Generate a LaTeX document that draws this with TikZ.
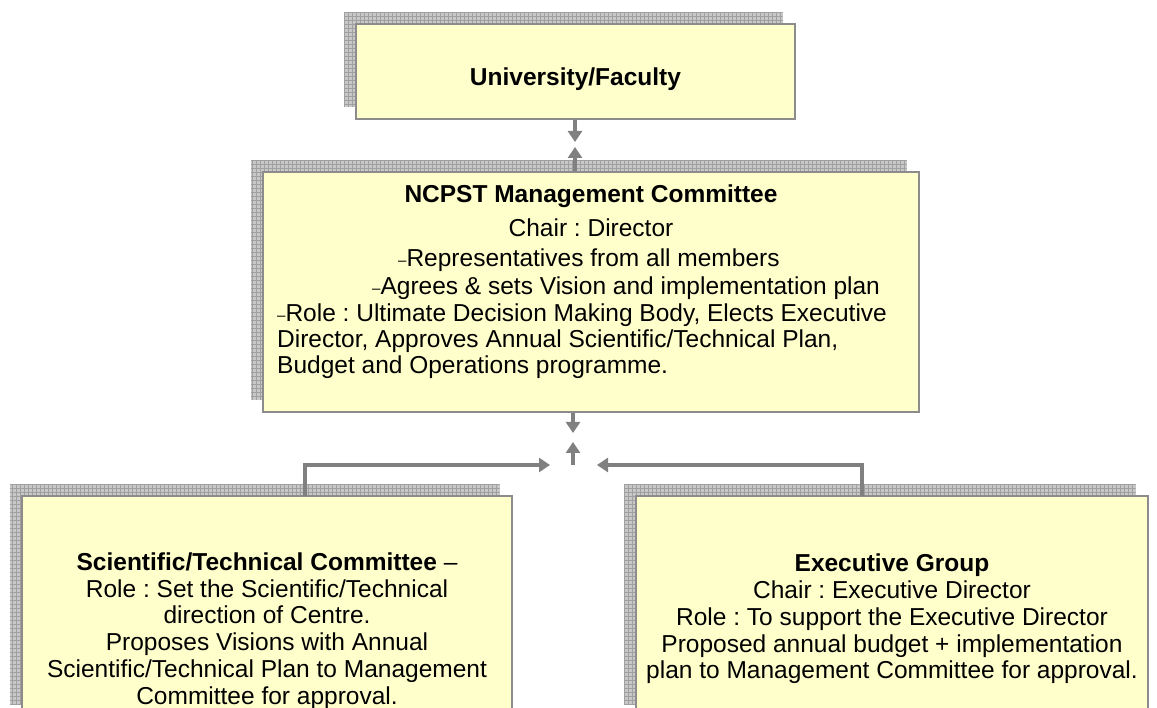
\documentclass[tikz,border=0pt]{standalone}
\usepackage{fontspec}
\setmainfont{Liberation Sans}
\usetikzlibrary{arrows.meta}
\frenchspacing

\definecolor{boxfill}{HTML}{FFFFCC}
\definecolor{boxline}{HTML}{8C8C8C}
\definecolor{shadefill}{HTML}{C8C8C8}
\definecolor{shadegrid}{HTML}{A0A0A0}
\definecolor{linkgray}{HTML}{808080}

\tikzset{
  orgbox/.style={draw=boxline, line width=1.3pt, fill=boxfill, inner sep=0pt},
  link/.style={draw=linkgray, line width=4pt, -{Triangle[length=11pt,width=14pt]}},
  txt/.style={inner sep=0pt, font=\fontsize{24.5}{26.8}\selectfont},
  headtxt/.style={txt, font=\fontsize{24.5}{26.8}\selectfont\bfseries},
}

% grey grid shadow behind a box: x1,y1,x2,y2
\newcommand{\gridshadow}[4]{%
  \fill[shadefill] (#1,#2) rectangle (#3,#4);
  \begin{scope}
    \clip (#1,#2) rectangle (#3,#4);
    \draw[shadegrid, line width=0.6pt, step=4pt] (#1,#2) grid (#3,#4);
  \end{scope}}
\newcommand{\smalldash}{{\fontsize{15}{15}\selectfont\raisebox{1pt}{–}}}

\begin{document}
\begin{tikzpicture}[x=1pt, y=-1pt]
  \useasboundingbox (0,0) rectangle (1157,708);

  % shadows
  \gridshadow{343.5}{12}{782.5}{107}
  \gridshadow{250.5}{160}{906.5}{400}
  \gridshadow{9.5}{484}{499.5}{704}
  \gridshadow{623.5}{484}{1135.5}{704}

  % boxes
  \node[orgbox, minimum width=439pt, minimum height=95pt]  (uni)  at (575.5,71.5) {};
  \node[orgbox, minimum width=656pt, minimum height=240pt] (mgmt) at (591,292) {};
  \node[orgbox, minimum width=490pt, minimum height=220pt] (sci)  at (267,606) {};
  \node[orgbox, minimum width=512pt, minimum height=220pt] (exe)  at (892,606) {};

  % connectors
  \coordinate (upDown) at (575,142);
  \coordinate (upUp)   at (575,147);
  \coordinate (hub)    at (573,465);
  \coordinate (hubDown) at (573,433);
  \coordinate (hubUp)  at (573,442);
  \coordinate (hubL)   at (550,465);
  \coordinate (hubR)   at (597,465);
  \coordinate (sciTop) at (305,496);
  \coordinate (exeTop) at (862,496);

  \draw[link] (uni.south -| upDown) -- (upDown);
  \draw[link] (mgmt.north -| upUp) -- (upUp);
  \draw[link] (mgmt.south -| hub) -- (hubDown);
  \draw[link] (hub) -- (hubUp);
  \draw[link] (sciTop) |- (hubL);
  \draw[link] (exeTop) |- (hubR);

  % texts
  \node[headtxt, anchor=base] (uniTxt) at (575.5,86) {University/Faculty};

  \node[headtxt, anchor=base] (mgmtHead)  at (591,203) {NCPST Management Committee};
  \node[txt, anchor=base]      (mgmtChair) at (591,237) {Chair : Director};
  \node[txt, anchor=base west] (mgmtRep)   at (398,267) {\smalldash Representatives from all members};
  \node[txt, anchor=base west] (mgmtAgr)   at (372,295) {\smalldash Agrees \& sets Vision and implementation plan};
  \node[txt, anchor=base west] (mgmtRole)  at (277,322) {\smalldash Role : Ultimate Decision Making Body, Elects Executive};
  \node[txt, anchor=base west] (mgmtDir)   at (277,348) {Director, Approves Annual Scientific/Technical Plan,};
  \node[txt, anchor=base west] (mgmtBud)   at (277,374) {Budget and Operations programme.};

  \node[txt, align=center] (sciTxt) at (267,631)
    {\textbf{Scientific/Technical Committee} –\\
     Role : Set the Scientific/Technical\\
     direction of Centre.\\
     Proposes Visions with Annual\\
     Scientific/Technical Plan to Management\\
     Committee for approval.};

  \node[txt, align=center] (exeTxt) at (892,619)
    {\textbf{Executive Group}\\
     Chair : Executive Director\\
     Role : To support the Executive Director\\
     Proposed annual budget + implementation\\
     plan to Management Committee for approval.};
\end{tikzpicture}
\end{document}
